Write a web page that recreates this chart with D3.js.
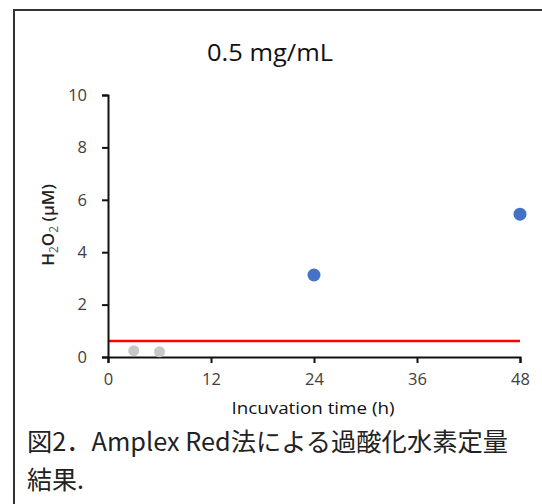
<!DOCTYPE html>
<html><head><meta charset="utf-8">
<script src="https://cdn.jsdelivr.net/npm/d3@7"></script>
<style>body{margin:0;background:#fff}svg{display:block}</style>
</head><body>
<script>
const title = "0.5 mg/mL";
const xTicks = [0, 12, 24, 36, 48];
const yTicks = [0, 2, 4, 6, 8, 10];
const grayTimes = [3, 6];
const grayValues = [0.24, 0.2];
const blueTimes = [24, 48];
const blueValues = [3.13, 5.45];
const thresholdValue = 0.61;
const xLabel = "Incuvation time (h)";
const caption1 = "図2．Amplex Red法による過酸化水素定量";
const caption2 = "結果.";

const W = 542, H = 504;
const svg = d3.select("body").append("svg").attr("width", W).attr("height", H);
svg.append("rect").attr("x", 14).attr("y", 10).attr("width", 540).attr("height", 510)
  .attr("fill", "#fff").attr("stroke", "#333").attr("stroke-width", 2);

const x = d3.scaleLinear().domain([0, 48]).range([108, 520]);
const y = d3.scaleLinear().domain([0, 10]).range([357, 95]);
const font = "'Open Sans', sans-serif";

svg.append("text").attr("x", 270).attr("y", 61).attr("text-anchor", "middle")
  .attr("font-family", font).attr("font-size", 23).attr("fill", "#111")
  .attr("textLength", 126).attr("lengthAdjust", "spacingAndGlyphs").text(title);

svg.append("line").attr("x1", x(0)).attr("x2", x(48))
  .attr("y1", y(thresholdValue)).attr("y2", y(thresholdValue))
  .attr("stroke", "#ff0000").attr("stroke-width", 2.5);

const yAxis = svg.append("g").attr("transform", `translate(${x(0)},0)`)
  .call(d3.axisLeft(y).tickValues(yTicks).tickSize(6).tickPadding(15));
const xAxis = svg.append("g").attr("transform", `translate(0,${y(0)})`)
  .call(d3.axisBottom(x).tickValues(xTicks).tickSize(6).tickPadding(10));
[yAxis, xAxis].forEach(g => {
  g.select(".domain").attr("stroke", "#111").attr("stroke-width", 2);
  g.selectAll(".tick line").attr("stroke", "#111").attr("stroke-width", 2);
  g.selectAll(".tick text").attr("font-family", font).attr("font-size", 16.5).attr("fill", "#404040");
});

svg.append("text").attr("x", 313).attr("y", 414).attr("text-anchor", "middle")
  .attr("font-family", font).attr("font-size", 17).attr("fill", "#111")
  .attr("textLength", 163).attr("lengthAdjust", "spacingAndGlyphs").text(xLabel);

const yl = svg.append("text").attr("transform", "translate(54,225) rotate(-90)")
  .attr("text-anchor", "middle").attr("font-family", font).attr("font-size", 17)
  .attr("font-weight", 600).attr("fill", "#222");
yl.append("tspan").text("H");
yl.append("tspan").attr("font-size", 12).attr("font-weight", 400).attr("dy", 4).attr("fill", "#555").text("2");
yl.append("tspan").attr("dy", -4).text("O");
yl.append("tspan").attr("font-size", 12).attr("font-weight", 400).attr("dy", 4).attr("fill", "#555").text("2");
yl.append("tspan").attr("dy", -4).text(" (μM)");

svg.selectAll("circle.g").data(grayTimes).join("circle").attr("class", "g")
  .attr("cx", d => x(d)).attr("cy", (d, i) => y(grayValues[i])).attr("r", 5.5)
  .attr("fill", "#c8c8c8");
svg.selectAll("circle.b").data(blueTimes).join("circle").attr("class", "b")
  .attr("cx", d => x(d)).attr("cy", (d, i) => y(blueValues[i])).attr("r", 6.5)
  .attr("fill", "#4472c4");

const cf = "'Noto Sans CJK JP', sans-serif";
svg.append("text").attr("x", 27).attr("y", 451).attr("font-family", cf)
  .attr("font-size", 25).attr("font-weight", 400).attr("fill", "#222")
  .attr("textLength", 481).attr("lengthAdjust", "spacingAndGlyphs").text(caption1);
svg.append("text").attr("x", 27).attr("y", 489).attr("font-family", cf)
  .attr("font-size", 25).attr("font-weight", 400).attr("fill", "#222").text(caption2);
</script>
</body></html>
